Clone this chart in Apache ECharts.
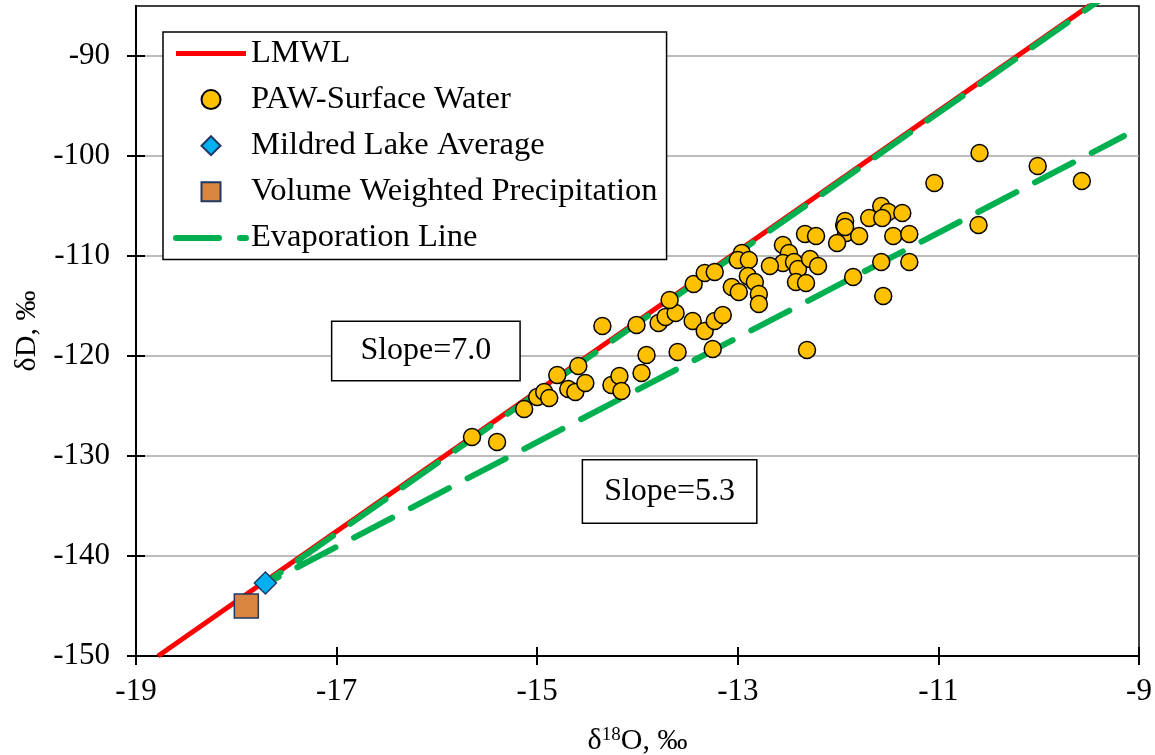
<!DOCTYPE html>
<html>
<head>
<meta charset="utf-8">
<script src="https://cdn.jsdelivr.net/npm/echarts@6/dist/echarts.min.js"></script>
<style>
html,body{margin:0;padding:0;background:#fff;}
#c{width:1155px;height:755px;}
</style>
</head>
<body>
<div id="c"></div>
<script>
// ---- data ----
const xTicks = [-19, -17, -15, -13, -11, -9];
const yTicks = [-150, -140, -130, -120, -110, -100, -90];
const lmwlX = [-18.78, -9.2];
const lmwlY = [-150.0, -82.9];
const evapX = [-9.19, -17.75, -9.15];
const evapY = [-83.0, -143.0, -98.0];
const mildredX = [-17.71];
const mildredY = [-142.7];
const vwpX = [-17.90];
const vwpY = [-145.0];
const pawX = [-15.65,-15.40,-15.13,-15.00,-14.93,-14.88,-14.80,-14.69,-14.62,-14.59,-14.52,-14.26,-14.18,-14.16,-13.96,-13.91,-14.35,-14.01,-13.60,-13.25,-13.79,-13.72,-13.62,-13.68,-13.44,-13.33,-13.23,-13.45,-13.33,-13.23,-13.15,-12.96,-13.00,-12.89,-12.90,-12.83,-13.06,-12.99,-12.79,-12.79,-12.33,-12.22,-11.94,-11.92,-12.01,-12.55,-12.49,-12.55,-12.68,-12.44,-12.40,-12.28,-12.20,-12.42,-12.32,-12.31,-11.85,-11.04,-11.57,-11.50,-11.36,-11.69,-11.56,-11.93,-11.93,-11.79,-11.45,-11.29,-11.57,-11.29,-11.55,-10.59,-10.01,-9.57,-10.60];
const pawY = [-128.1,-128.6,-125.3,-124.1,-123.6,-124.2,-121.9,-123.3,-123.6,-121.0,-122.7,-122.9,-122.0,-123.5,-121.7,-119.9,-117.0,-116.9,-119.6,-119.3,-116.7,-116.1,-115.7,-114.4,-112.8,-111.7,-111.6,-116.5,-117.5,-116.5,-115.9,-109.7,-110.4,-110.4,-112.0,-112.6,-113.1,-113.6,-113.8,-114.8,-107.8,-108.0,-106.9,-107.7,-108.7,-108.9,-109.7,-110.7,-111.0,-110.6,-111.3,-110.3,-111.0,-112.6,-112.7,-119.4,-112.1,-102.7,-105.0,-105.6,-105.7,-106.2,-106.2,-106.5,-107.1,-108.0,-108.0,-107.8,-110.6,-110.6,-114.0,-99.7,-101.0,-102.5,-106.9];
const slopeLabels = ['Slope=7.0', 'Slope=5.3'];
const slopeX = [-16.11, -13.68];
const slopeY = [-119.5, -133.55];

const zip = (a, b) => a.map((v, i) => [v, b[i]]);
const FONT = '"Liberation Serif", "Times New Roman", serif';
const slopePad = [[13, 28, 13, 28], [15, 21, 15, 21]];

const chart = echarts.init(document.getElementById('c'), null, {renderer: 'canvas'});

const baseX = {
  type: 'value', min: -19, max: -9, position: 'bottom', offset: 0,
  axisLine: {show: true, onZero: false, lineStyle: {color: '#000', width: 2}},
  splitLine: {show: false}
};
const baseY = {
  type: 'value', min: -150, max: -85, interval: 10, position: 'left', offset: 0,
  axisLine: {show: true, onZero: false, lineStyle: {color: '#000', width: 2}}
};
const hidden = {color: 'rgba(0,0,0,0)', borderWidth: 0, borderColor: 'rgba(0,0,0,0)'};

const option = {
  backgroundColor: '#fff',
  animation: false,
  grid: {left: 136, right: 16, top: 6, bottom: 99, show: true, borderColor: '#000', borderWidth: 1.5,
         containLabel: false, outerBoundsMode: 'none'},
  xAxis: [
    Object.assign({}, baseX, {
      axisTick: {show: true, inside: false, length: 9, lineStyle: {color: '#000', width: 2}, customValues: xTicks},
      axisLabel: {show: true, customValues: xTicks, margin: 20, color: '#000', fontFamily: FONT, fontSize: 31},
      name: '{n|δ}{s|18}{n|O, ‰}', nameLocation: 'middle', nameGap: 70,
      nameTextStyle: {color: '#000', fontFamily: FONT, fontSize: 30,
        rich: {n: {fontFamily: FONT, fontSize: 30, color: '#000'},
               s: {fontFamily: FONT, fontSize: 19, color: '#000', padding: [0, 0, 12, 0]}}}
    }),
    Object.assign({}, baseX, {
      axisTick: {show: true, inside: true, length: 9, lineStyle: {color: '#000', width: 2}, customValues: xTicks},
      axisLabel: {show: false}
    })
  ],
  yAxis: [
    Object.assign({}, baseY, {
      axisTick: {show: true, inside: false, length: 9, lineStyle: {color: '#000', width: 2}, customValues: yTicks},
      axisLabel: {show: true, customValues: yTicks, margin: 26, color: '#000', fontFamily: FONT, fontSize: 31},
      splitLine: {show: true, lineStyle: {color: '#A6A6A6', width: 1.5}},
      name: 'δD, ‰', nameLocation: 'middle', nameGap: 88, nameRotate: 90,
      nameTextStyle: {color: '#000', fontFamily: FONT, fontSize: 30}
    }),
    Object.assign({}, baseY, {
      axisTick: {show: true, inside: true, length: 9, lineStyle: {color: '#000', width: 2}, customValues: yTicks},
      axisLabel: {show: false},
      splitLine: {show: false}
    })
  ],
  legend: {
    orient: 'vertical', left: 163, top: 32,
    padding: [5, 9, 5, 10], itemGap: 13.1,
    itemWidth: 70, itemHeight: 19, symbolKeepAspect: true,
    backgroundColor: '#fff', borderColor: '#000', borderWidth: 1.5, borderRadius: 0,
    textStyle: {color: '#000', fontFamily: FONT, fontSize: 32.5, lineHeight: 32.5},
    data: [
      {name: 'LMWL', itemStyle: hidden, lineStyle: {color: '#FF0000', width: 5}},
      {name: 'PAW-Surface Water', icon: 'circle'},
      {name: 'Mildred Lake Average', icon: 'path://M10,0L20,10L10,20L0,10Z'},
      {name: 'Volume Weighted Precipitation', icon: 'path://M0,0L20,0L20,20L0,20Z'},
      {name: 'Evaporation Line', itemStyle: hidden, lineStyle: {color: '#00B050', width: 6, type: [43, 21], cap: 'round'}}
    ]
  },
  series: [
    {
      name: 'LMWL', type: 'line', xAxisIndex: 0, yAxisIndex: 0, z: 2,
      data: zip(lmwlX, lmwlY), showSymbol: false, symbol: 'none',
      lineStyle: {color: '#FF0000', width: 5}, itemStyle: {color: '#FF0000'}
    },
    {
      name: 'Evaporation Line', type: 'line', xAxisIndex: 0, yAxisIndex: 0, z: 3,
      data: zip(evapX, evapY), showSymbol: false, symbol: 'none',
      lineStyle: {color: '#00B050', width: 6, type: [43, 21], cap: 'round'}, itemStyle: {color: '#00B050'}
    },
    {
      name: 'PAW-Surface Water', type: 'scatter', xAxisIndex: 0, yAxisIndex: 0, z: 4,
      data: zip(pawX, pawY), symbol: 'circle', symbolSize: 17,
      itemStyle: {color: '#FFC000', borderColor: '#000', borderWidth: 1.5, opacity: 1}
    },
    {
      name: 'Mildred Lake Average', type: 'scatter', xAxisIndex: 0, yAxisIndex: 0, z: 5,
      data: zip(mildredX, mildredY), symbol: 'diamond', symbolSize: 22,
      itemStyle: {color: '#00B0F0', borderColor: '#1F3864', borderWidth: 1.5, opacity: 1}
    },
    {
      name: 'Volume Weighted Precipitation', type: 'scatter', xAxisIndex: 0, yAxisIndex: 0, z: 5,
      data: zip(vwpX, vwpY), symbol: 'rect', symbolSize: 24,
      itemStyle: {color: '#D9843F', borderColor: '#1F3864', borderWidth: 1.5, opacity: 1}
    }
  ]
};
chart.setOption(option);

function placeLabels() {
  const g = slopeLabels.map((t, i) => {
    const p = chart.convertToPixel({xAxisIndex: 0, yAxisIndex: 0}, [slopeX[i], slopeY[i]]);
    return {
      type: 'text', x: p[0], y: p[1], z: 10,
      style: {text: t, fill: '#000', font: '32px ' + FONT, align: 'center', verticalAlign: 'middle',
        backgroundColor: '#fff', borderColor: '#000', borderWidth: 1.5, padding: slopePad[i]}
    };
  });
  chart.setOption({graphic: g});
}
placeLabels();
</script>
</body>
</html>
